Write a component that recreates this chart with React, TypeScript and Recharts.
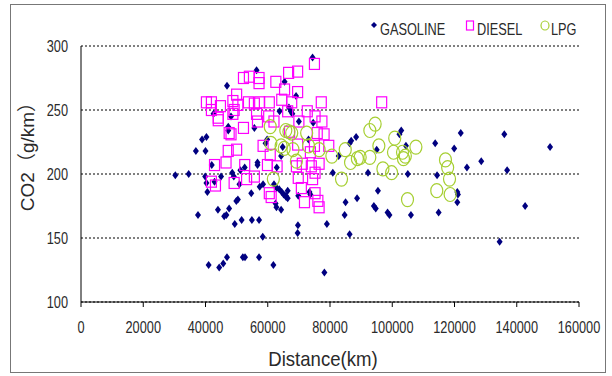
import React from "react";
import { ScatterChart, Scatter, XAxis, YAxis, CartesianGrid } from "recharts";

// [distance km, CO2 g/km]
const GASOLINE: [number, number][] = [
  [30300, 199], [34600, 200], [36900, 218], [37600, 168], [38900, 227], [40300, 229],
  [40000, 218], [39900, 198], [40300, 193], [40600, 186], [41000, 129], [42000, 207],
  [42600, 247], [42900, 194], [44000, 172], [44400, 127], [45000, 198], [45700, 130],
  [46000, 167], [46700, 168], [46900, 269], [47300, 237], [47300, 234], [46900, 135],
  [47600, 173], [48200, 245], [48600, 201], [49100, 198], [49400, 161], [49900, 179],
  [50400, 180], [50900, 192], [51200, 203], [51600, 164], [52000, 135], [52700, 135],
  [52600, 205], [54700, 185], [54900, 164], [56400, 281], [55700, 236], [56700, 207],
  [56700, 209], [57200, 164], [57200, 135], [57400, 190], [58400, 151], [58500, 192],
  [59300, 224], [59800, 227], [61800, 129], [62000, 192], [62500, 177], [62800, 174],
  [62900, 205], [62900, 189], [63800, 249], [63700, 188], [64300, 172], [64300, 214],
  [64500, 186], [64800, 221], [65100, 184], [65400, 272], [65800, 183], [65900, 182],
  [66400, 181], [66800, 252], [66400, 187], [67400, 249], [67900, 247], [69100, 261],
  [69600, 154], [69700, 160], [69800, 183], [70000, 241], [73100, 227], [73400, 186],
  [73700, 184], [74400, 291], [74600, 240], [78200, 123], [79000, 161], [80900, 201],
  [82800, 214], [84700, 168], [85000, 178], [86300, 153], [86300, 224], [86800, 226],
  [88400, 229], [88700, 181], [92200, 201], [94100, 175], [94700, 173], [95000, 219],
  [95400, 187], [98500, 170], [99100, 168], [102300, 231], [102900, 234], [104400, 222],
  [105000, 200], [106000, 168], [113800, 224], [114400, 199], [114900, 170], [119900, 220],
  [120900, 186], [121100, 184], [120900, 178], [122000, 232], [124000, 205], [128600, 210],
  [134500, 147], [136000, 231], [136900, 203], [142700, 175], [150700, 221],
];

const DIESEL: [number, number][] = [
  [40300, 256], [41900, 256], [41900, 250], [44800, 253], [44100, 244], [44100, 242],
  [47600, 232], [48200, 231], [48800, 257], [49200, 250], [50000, 262], [50400, 254],
  [48800, 247], [52200, 275], [54100, 276], [53800, 256], [55700, 255], [57200, 275],
  [57200, 271], [57400, 256], [56400, 247], [56700, 241], [60500, 256], [60300, 245],
  [62000, 241], [62600, 272], [64500, 258], [65400, 266], [66400, 249], [67700, 256],
  [66700, 279], [69600, 280], [69600, 264], [70000, 241], [72700, 249], [75000, 286],
  [75200, 245], [77200, 256], [77400, 241], [78100, 231], [79600, 222], [96600, 256],
  [52200, 236], [47300, 218], [50000, 219], [46600, 209], [42900, 207], [41900, 194],
  [43200, 191], [49200, 193], [52600, 207], [53200, 196], [55700, 198], [58500, 222],
  [60800, 215], [59900, 207], [60500, 185], [61100, 182], [63000, 206], [67000, 233],
  [69600, 223], [69200, 206], [69800, 197], [70800, 189], [71100, 208], [71800, 178],
  [73700, 217], [74000, 206], [74400, 196], [75200, 185], [76100, 179], [76500, 174],
  [76500, 208], [75200, 201], [75900, 232], [75000, 222],
];

const LPG: [number, number][] = [
  [60800, 237], [61000, 224], [61800, 196], [64300, 222], [65300, 220], [65800, 234],
  [66800, 233], [67700, 232], [68100, 219], [69200, 210], [72500, 232], [73100, 222],
  [76500, 219], [80600, 214], [83700, 196], [84900, 219], [86600, 209], [88800, 212],
  [89700, 213], [92800, 213], [92800, 234], [94500, 239], [95700, 222], [97000, 204],
  [99800, 201], [100400, 217], [100800, 228], [103300, 217], [103600, 212], [104200, 214],
  [104900, 180], [107600, 221], [114300, 187], [117100, 211], [117800, 205], [118400, 196],
  [118600, 184],
];

const X_TICKS = [0, 20000, 40000, 60000, 80000, 100000, 120000, 140000, 160000];
const Y_TICKS = [100, 150, 200, 250, 300];

const FONT = '"Liberation Sans", Arial, "Noto Sans CJK KR", sans-serif';
const TEXT = "#2a2a2a";
const NAVY = "#000080";
const MAGENTA = "#ff00ff";
const LIME = "#a6cf32";
const SQUEEZE = 0.75; // the original font is tall and narrow

const toPoints = (rows: [number, number][]) => rows.map(([x, y]) => ({ x, y }));

function Diamond(props: any) {
  const { cx, cy } = props;
  return <path d={`M${cx},${cy - 4} L${cx + 3},${cy} L${cx},${cy + 4} L${cx - 3},${cy} Z`} fill={NAVY} />;
}

function Square(props: any) {
  const { cx, cy } = props;
  return <rect x={cx - 5} y={cy - 5.5} width={10} height={11} fill="none" stroke={MAGENTA} strokeWidth={1.2} />;
}

function Ring(props: any) {
  const { cx, cy } = props;
  return <ellipse cx={cx} cy={cy} rx={6} ry={7} fill="none" stroke={LIME} strokeWidth={1.2} />;
}

function XTick({ x, y, payload }: any) {
  return (
    <g transform={`translate(${x},${y + 24}) scale(${SQUEEZE},1)`}>
      <text textAnchor="middle" fontSize={17} fontFamily={FONT} fill={TEXT}>
        {payload.value}
      </text>
    </g>
  );
}

function YTick({ x, y, payload }: any) {
  return (
    <g transform={`translate(${x - 6},${y + 6}) scale(${SQUEEZE},1)`}>
      <text textAnchor="end" fontSize={17} fontFamily={FONT} fill={TEXT}>
        {payload.value}
      </text>
    </g>
  );
}

export default function App() {
  return (
    <div style={{ position: "absolute", left: 0, top: 0, width: 612, height: 376, background: "#fff", fontFamily: FONT }}>
      <div
        style={{
          position: "absolute",
          left: 10,
          top: 4,
          width: 594,
          height: 367,
          border: "1px solid #777",
        }}
      />
      <ScatterChart width={612} height={376} margin={{ top: 46, right: 33, bottom: 44, left: 0 }}>
        <CartesianGrid vertical={false} stroke="#000" strokeDasharray="2 2" />
        <XAxis
          type="number"
          dataKey="x"
          domain={[0, 160000]}
          ticks={X_TICKS}
          interval={0}
          height={30}
          tickSize={5}
          tickMargin={2}
          stroke="#000"
          tick={<XTick />}
        />
        <YAxis
          type="number"
          dataKey="y"
          domain={[100, 300]}
          ticks={Y_TICKS}
          interval={0}
          width={81}
          tickSize={5}
          tickMargin={2}
          tickLine={false}
          stroke="#000"
          tick={<YTick />}
        />
        <Scatter name="GASOLINE" data={toPoints(GASOLINE)} shape={Diamond} isAnimationActive={false} />
        <Scatter name="DIESEL" data={toPoints(DIESEL)} shape={Square} isAnimationActive={false} />
        <Scatter name="LPG" data={toPoints(LPG)} shape={Ring} isAnimationActive={false} />
      </ScatterChart>

      {/* axis titles and legend */}
      <svg width={612} height={376} style={{ position: "absolute", left: 0, top: 0, pointerEvents: "none" }}>
        <g transform="translate(323,366) scale(0.93,1)">
          <text textAnchor="middle" fontSize={20} fontFamily={FONT} fill={TEXT}>
            Distance(km)
          </text>
        </g>
        <g transform="translate(34,152) rotate(-90)">
          <text textAnchor="middle" fontSize={19} fontFamily={FONT} fill={TEXT}>
            CO2（g/km）
          </text>
        </g>

        <path d="M374,22 L377,25 L374,28 L371,25 Z" fill={NAVY} />
        <g transform={`translate(380,35) scale(${SQUEEZE},1)`}>
          <text fontSize={17} fontFamily={FONT} fill={TEXT}>GASOLINE</text>
        </g>
        <rect x={466.5} y={21} width={7} height={9} fill="none" stroke={MAGENTA} strokeWidth={1.2} />
        <g transform={`translate(477,35) scale(${SQUEEZE},1)`}>
          <text fontSize={17} fontFamily={FONT} fill={TEXT}>DIESEL</text>
        </g>
        <ellipse cx={545} cy={25.5} rx={4} ry={4.5} fill="none" stroke={LIME} strokeWidth={1.2} />
        <g transform={`translate(551,35) scale(${SQUEEZE},1)`}>
          <text fontSize={17} fontFamily={FONT} fill={TEXT}>LPG</text>
        </g>
      </svg>
    </div>
  );
}
